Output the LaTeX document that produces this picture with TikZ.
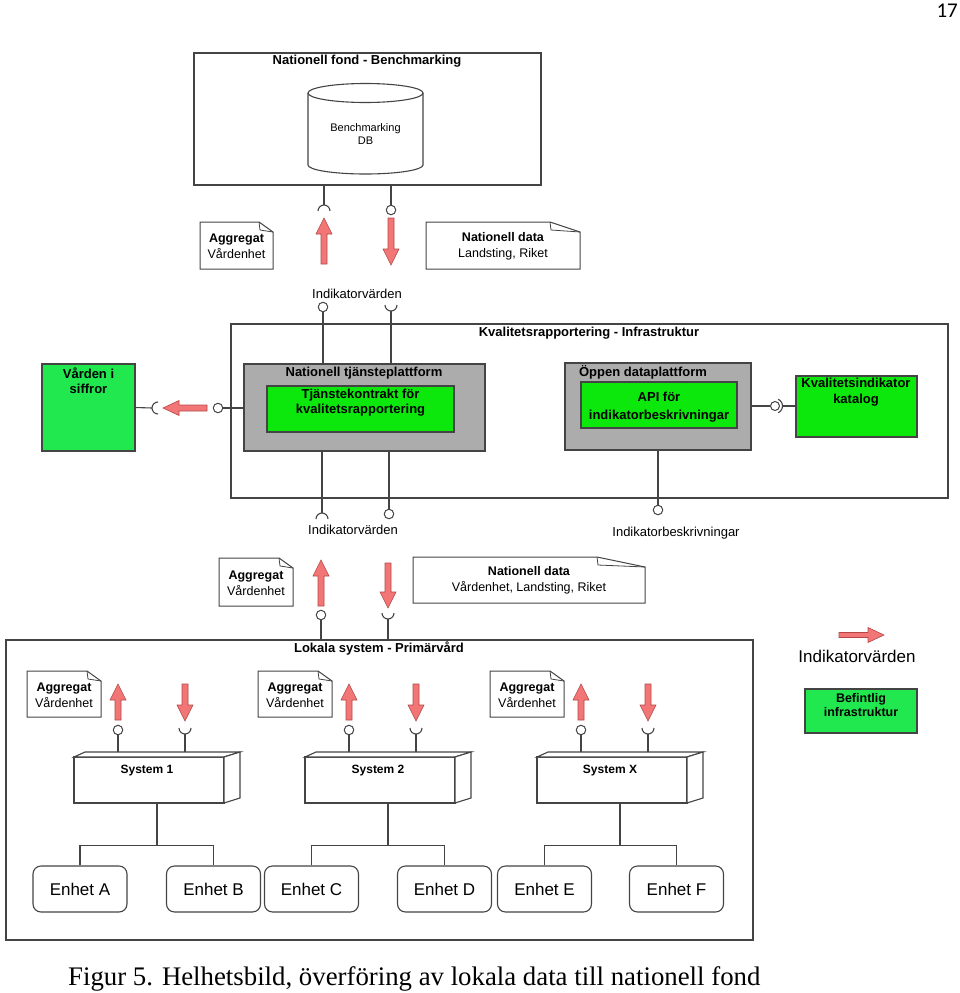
\documentclass[tikz,border=0pt]{standalone}
\usepackage{fontspec}
\setmainfont{Liberation Sans}
\newfontfamily\capfont{Liberation Serif}
\newfontfamily\pagefont{Carlito}
\definecolor{lc}{RGB}{68,68,68}
\definecolor{gA}{RGB}{34,232,80}
\definecolor{gB}{RGB}{12,232,12}
\definecolor{gr}{RGB}{172,172,172}
\definecolor{af}{RGB}{242,118,118}
\definecolor{ad}{RGB}{180,70,70}
\newcommand\FlowUp[3]{% x, ybottom, ytip
 \draw[flow] (#1-3,#2) -- (#1-3,#3+16) -- (#1-8,#3+16) -- (#1,#3) -- (#1+8,#3+16) -- (#1+3,#3+16) -- (#1+3,#2) -- cycle;}
\newcommand\FlowDown[3]{% x, ytop, ytip
 \draw[flow] (#1-3,#2) -- (#1-3,#3-16) -- (#1-8,#3-16) -- (#1,#3) -- (#1+8,#3-16) -- (#1+3,#3-16) -- (#1+3,#2) -- cycle;}
\newcommand\FlowLeft[3]{% xtip, xtail, y
 \draw[flow] (#2,#3-3) -- (#1+16,#3-3) -- (#1+16,#3-7.5) -- (#1,#3) -- (#1+16,#3+7.5) -- (#1+16,#3+3) -- (#2,#3+3) -- cycle;}
\newcommand\FlowRight[3]{% xtail, xtip, y
 \draw[flow] (#1,#3-2.5) -- (#2-16,#3-2.5) -- (#2-16,#3-7.5) -- (#2,#3) -- (#2-16,#3+7.5) -- (#2-16,#3+2.5) -- (#1,#3+2.5) -- cycle;}
\newcommand\NoteBox[6]{% x1,y1,x2,y2,foldw,foldh
 \draw[ln, line width=1pt, fill=white] (#1,#2) -- (#3-#5,#2) -- (#3,#2+#6) -- (#3,#4) -- (#1,#4) -- cycle;
 \draw[ln, line width=0.8pt] (#3-#5,#2) -- (#3-#5+1,#2+#6*0.8) -- (#3,#2+#6);}
\newcommand\SysBox[3]{% name, front left x, label
 \node[frame, fill=white, minimum width=150, minimum height=46, anchor=north west] (#1) at (#2,757) {};
 \draw[ln, fill=white] (#2,757) -- (#2+11,752) -- (#2+166,752) -- (#2+150,757) -- cycle;
 \draw[ln, fill=white] (#2+150,757) -- (#2+166,752) -- (#2+166,798) -- (#2+150,803) -- cycle;
 \node[tsys] (#1t) at (#2+73,771) {#3};
 % interfaces
 \node[ball] (#1b) at (#2+44,730) {};
 \draw[ln] (#1b.south) -- (#2+44,752);
 \draw[ln] (#2+105,728) arc[start angle=180,end angle=360,radius=6pt];
 \draw[ln] (#2+111,734) -- (#2+111,752);
 \FlowUp{#2+44}{720}{684}
 \FlowDown{#2+111}{684}{721}
 \NoteBox{#2-47}{671}{#2+27}{717}{14}{10}
 \node[tnote] (#1n) at (#2-10,695) {\textbf{Aggregat}\\Vårdenhet};
 \draw[ln] (#2+83,803) -- (#2+83,846);}
\begin{document}
\begin{tikzpicture}[x=1pt,y=-1pt, line join=miter,
 frame/.style={draw=lc, line width=1.3pt, inner sep=0pt, outer sep=0pt},
 ln/.style={draw=lc, line width=1.1pt},
 flow/.style={fill=af, draw=ad, line width=0.6pt},
 ball/.style={circle, draw=lc, line width=1pt, fill=white, inner sep=0pt, minimum size=9.5pt},
 txt/.style={inner sep=0pt, align=center, text=black},
 tb/.style={txt, font=\bfseries\fontsize{13}{15.5}\selectfont},
 tr/.style={txt, font=\fontsize{13}{15.5}\selectfont},
 tnote/.style={txt, font=\fontsize{12.5}{16}\selectfont},
 tsys/.style={txt, font=\bfseries\fontsize{12}{14}\selectfont},
 enh/.style={draw=lc, line width=1.1pt, rounded corners=8pt, minimum width=94, minimum height=46, inner sep=0pt, font=\fontsize{17}{20}\selectfont}]
\useasboundingbox (0,0) rectangle (960,993);

% ---------- top: Nationell fond ----------
\node[frame, minimum width=347, minimum height=132] (fond) at (367.5,119) {};
\node[tb] (fondT) at (367,61) {Nationell fond - Benchmarking};
\draw[ln, fill=white] (308,93) -- (308,165) arc[start angle=180,end angle=360,x radius=57.5pt,y radius=9pt] -- (423,93);
\draw[ln, fill=white] (365.5,93) ellipse [x radius=57.5pt, y radius=9.5pt];
\node[txt, font=\fontsize{11}{13}\selectfont] (dbT) at (365.5,134.5) {Benchmarking\\DB};

\draw[ln] (324,185) -- (324,205);
\draw[ln] (318,211) arc[start angle=180,end angle=0,radius=6pt];
\node[ball] (tb2) at (391,210) {};
\draw[ln] (391,185) -- (tb2.north);
\FlowUp{324}{264}{218}
\FlowDown{391}{218}{265}
\NoteBox{200}{222}{273}{269}{14}{10}
\node[tnote] (n1) at (236.5,246) {\textbf{Aggregat}\\Vårdenhet};
\NoteBox{426}{222}{580}{269}{30}{10}
\node[tnote] (n2) at (503,246) {\textbf{Nationell data}\\Landsting, Riket};
\node[tr] (iv1) at (357,294) {Indikatorvärden};

% ---------- middle ----------
\node[frame, minimum width=717, minimum height=174] (infra) at (589.5,411) {};
\node[tb] (infraT) at (589,333) {Kvalitetsrapportering - Infrastruktur};

\node[frame, fill=gr, minimum width=241, minimum height=87] (ntp) at (364.5,407.5) {};
\node[tb] (ntpT) at (364,373) {Nationell tjänsteplattform};
\node[frame, fill=gB, minimum width=187, minimum height=46] (tk) at (360.5,409) {};
\node[tb] (tkT) at (360.5,402.5) {Tjänstekontrakt för\\kvalitetsrapportering};

\node[frame, fill=gr, minimum width=186, minimum height=87] (odp) at (658,406.5) {};
\node[tb] (odpT) at (643,372) {Öppen dataplattform};
\node[frame, fill=gB, minimum width=156, minimum height=46] (api) at (659,405) {};
\node[txt, font=\bfseries\fontsize{13}{18}\selectfont] (apiT) at (659,407) {API för\\indikatorbeskrivningar};

\node[frame, fill=gB, minimum width=121, minimum height=61] (kik) at (856.5,406.5) {};
\node[txt, font=\bfseries\fontsize{13}{16}\selectfont] (kikT) at (856,392) {Kvalitetsindikator\\katalog};

\node[frame, fill=gA, minimum width=93, minimum height=87] (vif) at (88.5,407.5) {};
\node[tb] (vifT) at (88.5,380.5) {Vården i\\siffror};

% interfaces above Nationell tjänsteplattform
\node[ball] (ub) at (323,307) {};
\draw[ln] (ub.south) -- (323,364);
\draw[ln] (385,305) arc[start angle=180,end angle=360,radius=6pt];
\draw[ln] (391,311) -- (391,364);

% Vården i siffror connection
\draw[ln] (vif.east) -- (152,408);
\draw[ln] (158,402) arc[start angle=90,end angle=270,radius=6pt];
\FlowLeft{163}{207}{408}
\node[ball] (vb) at (218,408) {};
\draw[ln] (vb.east) -- (244,408);

% Kvalitetsindikator connection
\node[ball, minimum size=9pt] (kb) at (775,406) {};
\draw[ln] (751,406) -- (kb.west);
\draw[ln] (778.2,412.8) arc[start angle=-65,end angle=65,radius=7.5pt];
\draw[ln] (782.5,406) -- (kik.west |- 0,406);

% Indikatorbeskrivningar
\node[ball] (ib) at (658,510) {};
\draw[ln] (658,450) -- (ib.north);
\node[tr] (ibT) at (676,533) {Indikatorbeskrivningar};

% interfaces below Nationell tjänsteplattform
\draw[ln] (322,451) -- (322,513);
\draw[ln] (316,519) arc[start angle=180,end angle=0,radius=6pt];
\node[ball] (lb) at (389,514) {};
\draw[ln] (389,451) -- (lb.north);
\node[tr] (iv2) at (353,530) {Indikatorvärden};

\FlowUp{321}{606}{560}
\FlowDown{388}{563}{608}
\node[ball] (lb2) at (321,615) {};
\draw[ln] (lb2.south) -- (321,640);
\draw[ln] (382,613) arc[start angle=180,end angle=360,radius=6pt];
\draw[ln] (388,619) -- (388,640);
\NoteBox{219}{558}{293}{606}{14}{10}
\node[tnote] (n3) at (256,583) {\textbf{Aggregat}\\Vårdenhet};
\NoteBox{413}{557}{645}{603}{48}{10}
\node[tnote] (n4) at (529,580.5) {\textbf{Nationell data}\\Vårdenhet, Landsting, Riket};

% ---------- Lokala system ----------
\node[frame, minimum width=747, minimum height=300] (lok) at (379.5,790) {};
\node[tb] (lokT) at (379,648) {Lokala system - Primärvård};

\SysBox{s1}{74}{System 1}
\SysBox{s2}{305}{System 2}
\SysBox{sx}{537}{System X}

\node[enh] (ea) at (80,889) {Enhet A};
\node[enh] (eb) at (213.5,889) {Enhet B};
\node[enh] (ec) at (311.5,889) {Enhet C};
\node[enh] (ed) at (444.5,889) {Enhet D};
\node[enh] (ee) at (544.5,889) {Enhet E};
\node[enh] (ef) at (676.5,889) {Enhet F};
\draw[ln] (ea.north) -- ++(0,-20) -| (eb.north);
\draw[ln] (ec.north) -- ++(0,-20) -| (ed.north);
\draw[ln] (ee.north) -- ++(0,-20) -| (ef.north);

% ---------- legend ----------
\FlowRight{839}{884}{635}
\node[txt, font=\fontsize{17}{20}\selectfont] (legT) at (857,656) {Indikatorvärden};
\node[frame, fill=gA, minimum width=112, minimum height=44] (leg) at (861,711) {};
\node[txt, font=\bfseries\fontsize{12.5}{14}\selectfont] (legGT) at (861,705) {Befintlig\\infrastruktur};

% ---------- caption and page number ----------
\node[anchor=base west, inner sep=0pt, font=\capfont\fontsize{26.8}{32}\selectfont] (cap) at (68,985) {Figur 5. Helhetsbild, överföring av lokala data till nationell fond};
\node[anchor=base east, inner sep=0pt, font=\pagefont\fontsize{21}{24}\selectfont] (pg) at (958,17) {17};
\end{tikzpicture}
\end{document}
